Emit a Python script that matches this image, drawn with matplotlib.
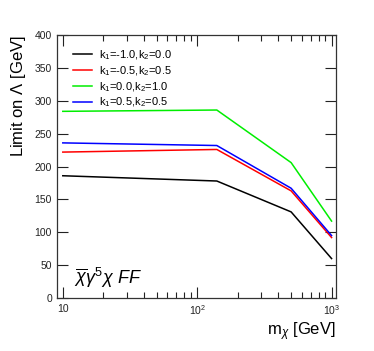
import matplotlib
matplotlib.use('Agg')
from matplotlib import pyplot as plt
from matplotlib.ticker import LogLocator, FixedLocator, FuncFormatter, NullFormatter

plt.rcParams['font.family'] = ['Liberation Sans', 'DejaVu Sans']
plt.rcParams['mathtext.fontset'] = 'custom'
plt.rcParams['mathtext.rm'] = 'Liberation Sans'
plt.rcParams['mathtext.it'] = 'Liberation Sans:italic'

# mass points (GeV)
masses = [10, 140, 500, 1000]

# limits on Lambda per coupling set
black_vals = [186, 178, 131, 60]
red_vals = [222, 226, 163, 92]
green_vals = [284, 286, 206, 117]
blue_vals = [236, 232, 167, 95]

labels = [r'k$_1$=-1.0,k$_2$=0.0', r'k$_1$=-0.5,k$_2$=0.5',
          r'k$_1$=0.0,k$_2$=1.0', r'k$_1$=0.5,k$_2$=0.5']

fig = plt.figure(figsize=(3.74, 3.51), dpi=100)
ax = fig.add_axes([0.152, 0.151, 0.746, 0.749])

ax.plot(masses, black_vals, color='black', linewidth=1.1, label=labels[0])
ax.plot(masses, red_vals, color='#ff0000', linewidth=1.1, label=labels[1])
ax.plot(masses, green_vals, color='#00ee00', linewidth=1.1, label=labels[2])
ax.plot(masses, blue_vals, color='#0000ff', linewidth=1.1, label=labels[3])

ax.set_xscale('log')
ax.set_xlim(9.03, 1076)
ax.set_ylim(0, 400)

ax.yaxis.set_major_locator(FixedLocator(range(0, 401, 50)))
ax.xaxis.set_major_locator(FixedLocator([10, 100, 1000]))
ax.xaxis.set_minor_locator(LogLocator(base=10, subs=range(2, 10)))
ax.xaxis.set_minor_formatter(NullFormatter())
ax.xaxis.set_major_formatter(FuncFormatter(
    lambda v, p: {10: '10', 100: r'10$^2$', 1000: r'10$^3$'}.get(int(round(v)), '')))

ax.tick_params(which='both', direction='in', top=True, right=True, labelsize=7.5, colors='#222222')
ax.tick_params(which='major', length=8, width=0.8)
ax.tick_params(which='minor', length=4, width=0.8)
ax.tick_params(axis='x', pad=4)
for s in ax.spines.values():
    s.set_linewidth(0.9)
    s.set_color('#333333')

ax.set_ylabel(r'Limit on $\Lambda$ [GeV]', fontsize=12, loc='top', labelpad=5)
ax.set_xlabel(r'm$_\chi$ [GeV]', fontsize=12, loc='right', labelpad=2)

ax.legend(loc='upper left', bbox_to_anchor=(0.035, 0.975), frameon=False, fontsize=8,
          handlelength=1.7, handletextpad=0.6, labelspacing=0.2, borderaxespad=0.2)

ax.text(0.06, 0.03, r'$\overline{\chi}\gamma^{5}\chi\ \mathit{FF}$', transform=ax.transAxes,
        fontsize=13, ha='left', va='bottom')

fig.savefig('out.png', dpi=100)
plt.close()
